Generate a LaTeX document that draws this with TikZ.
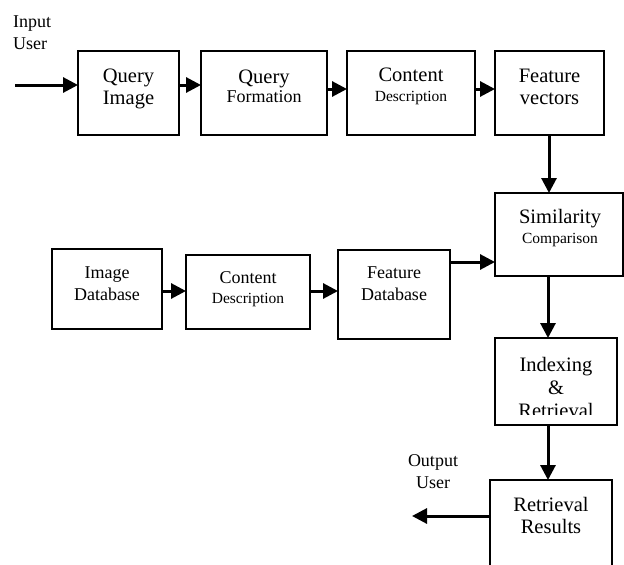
\documentclass[tikz,border=0pt]{standalone}
\usepackage{fontspec}
\setmainfont{Liberation Serif}
\usetikzlibrary{arrows.meta}
\tikzset{
  box/.style={draw, line width=2pt, anchor=north west, inner sep=0pt, outer sep=0pt},
  arr/.style={line width=3pt, -{Triangle[length=15pt,width=15pt]}},
  lbl/.style={anchor=base, align=center, inner sep=0pt},
  big/.style={font=\fontsize{20.5}{22}\selectfont},
  mid/.style={font=\fontsize{18}{22}\selectfont},
}
\newcommand{\smalltxt}{\fontsize{15.5}{20}\selectfont}
\newcommand{\midtxt}{\fontsize{18}{20}\selectfont}
\begin{document}
\begin{tikzpicture}[x=1pt,y=-1pt]
  \clip (0,0) rectangle (624,565);
  \fill[white] (0,0) rectangle (624,565);

  % query branch
  \node[box, minimum width=101pt, minimum height=84pt] (qi)  at (78,51)  {};
  \node[box, minimum width=126pt, minimum height=84pt] (qf)  at (201,51) {};
  \node[box, minimum width=128pt, minimum height=84pt] (cd1) at (347,51) {};
  \node[box, minimum width=109pt, minimum height=84pt] (fv)  at (495,51) {};
  \node[box, minimum width=128pt, minimum height=83pt] (sim) at (495,193) {};

  % database branch
  \node[box, minimum width=110pt, minimum height=80pt] (idb) at (52,249)  {};
  \node[box, minimum width=124pt, minimum height=74pt] (cd2) at (186,255) {};
  \node[box, minimum width=112pt, minimum height=89pt] (fdb) at (338,250) {};

  % output branch
  \node[box, minimum width=122pt, minimum height=87pt]  (idx) at (495,338) {};
  \node[box, minimum width=122pt, minimum height=120pt] (rr)  at (490,480) {};

  % labels (anchored on the baseline of their last line)
  \node[lbl, big] (qiT)  at (128.5,104) {Query\\Image};
  \node[lbl, big] (qfT)  at (264,102)   {Query\\[-3pt]\midtxt Formation};
  \node[lbl, big] (cd1T) at (411,101)   {Content\\[-2pt]\smalltxt Description};
  \node[lbl, big] (fvT)  at (549.5,104) {Feature\\vectors};
  \node[lbl, big] (simT) at (560,243)   {Similarity\\[-2pt]\smalltxt Comparison};
  \node[lbl, mid] (idbT) at (107,300)   {Image\\Database};
  \node[lbl, mid] (cd2T) at (248,303)   {Content\\[-2pt]\smalltxt Description};
  \node[lbl, mid] (fdbT) at (394,300)   {Feature\\Database};
  \begin{scope}
    \clip (495,338) rectangle (617,414);
    \node[lbl, big] (idxT) at (556,417) {Indexing\\[1pt]\&\\[1pt]Retrieval};
  \end{scope}
  \node[lbl, big] (rrT)  at (551,533)   {Retrieval\\Results};
  \node[lbl, mid] (outT) at (433,488)   {Output\\User};
  \node[lbl, mid, anchor=base west, align=left] (inT) at (13,49) {Input\\User};

  % connectors
  \coordinate (inStart) at (15,85);
  \coordinate (outEnd) at (412,516);
  \draw[arr] (inStart) -- (qi.west |- inStart);
  \draw[arr] (qi.east |- 0,85) -- (qf.west |- 0,85);
  \draw[arr] (qf.east |- 0,89) -- (cd1.west |- 0,89);
  \draw[arr] (cd1.east |- 0,89) -- (fv.west |- 0,89);
  \draw[arr] (fv.south -| 549,0) -- (sim.north -| 549,0);
  \draw[arr] (idb.east |- 0,291) -- (cd2.west |- 0,291);
  \draw[arr] (cd2.east |- 0,291) -- (fdb.west |- 0,291);
  \draw[arr] (fdb.east |- 0,262) -- (sim.west |- 0,262);
  \draw[arr] (sim.south -| 548,0) -- (idx.north -| 548,0);
  \draw[arr] (idx.south -| 548,0) -- (rr.north -| 548,0);
  \draw[arr] (rr.west |- outEnd) -- (outEnd);
\end{tikzpicture}
\end{document}
